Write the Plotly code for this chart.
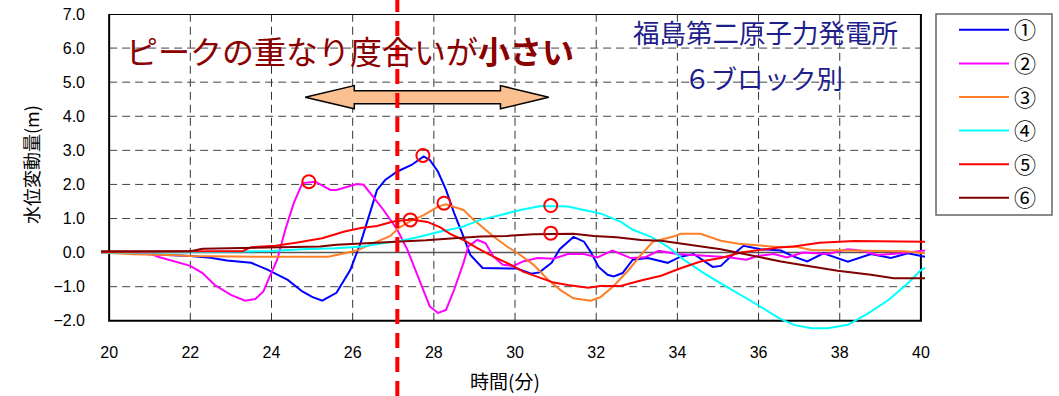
import plotly.graph_objects as go

# ---------------- data ----------------
series_names = ["①", "②", "③", "④", "⑤", "⑥"]
series_colors = ["#0000FF", "#FF00FF", "#FF7F27", "#00FFFF", "#FF0000", "#800000"]

x1 = [19.8, 20.6, 21.0, 21.7, 22.0, 22.5, 22.9, 23.5, 23.9, 24.4, 24.76, 25.0, 25.25, 25.6, 25.94,
      26.2, 26.4, 26.6, 26.8, 27.1, 27.45, 27.75, 27.9, 28.1, 28.3, 28.5, 28.73, 28.9, 29.2, 30.05,
      30.4, 30.6, 30.9, 31.1, 31.44, 31.7, 31.86, 32.06, 32.28, 32.43, 32.65, 32.9, 33.27, 33.76,
      34.08, 34.4, 34.87, 35.07, 35.3, 35.63, 36.05, 36.55, 36.87, 37.2, 37.6, 38.2, 38.77, 39.26,
      39.68, 40.1]
y1 = [0.0, 0.0, -0.05, -0.07, -0.1, -0.15, -0.23, -0.3, -0.5, -0.8, -1.14, -1.3, -1.41, -1.18, -0.51,
      0.3, 1.1, 1.84, 2.13, 2.38, 2.57, 2.82, 2.72, 2.38, 1.84, 1.16, 0.47, -0.07, -0.45, -0.47,
      -0.62, -0.58, -0.3, 0.1, 0.46, 0.32, 0.03, -0.42, -0.65, -0.7, -0.6, -0.21, -0.16, -0.3,
      -0.12, -0.04, -0.42, -0.39, -0.13, 0.2, 0.1, 0.06, -0.12, -0.26, -0.02, -0.27, -0.04, -0.16,
      -0.02, -0.12]

x2 = [19.8, 21.0, 21.2, 22.0, 22.3, 22.6, 23.0, 23.35, 23.6, 23.8, 23.92, 24.14, 24.34, 24.55, 24.76,
      25.08, 25.45, 25.6, 26.1, 26.27, 26.5, 26.76, 27.1, 27.35, 27.67, 27.9, 28.1, 28.3, 28.5, 28.73,
      28.85, 29.07, 29.27, 29.47, 29.7, 29.96, 30.2, 30.55, 30.95, 31.3, 31.7, 32.03, 32.4, 32.85,
      33.2, 33.54, 34.0, 34.4, 34.9, 35.26, 35.7, 35.97, 36.37, 36.7, 37.1, 37.7, 38.2, 38.5, 38.94,
      39.5, 40.1]
y2 = [0.0, -0.02, -0.12, -0.39, -0.6, -0.95, -1.24, -1.41, -1.36, -1.14, -0.8, -0.21, 0.67, 1.46, 2.04,
      2.08, 1.84, 1.84, 2.01, 1.99, 1.64, 1.25, 0.67, 0.08, -0.89, -1.58, -1.77, -1.68, -1.09, -0.3,
      0.18, 0.37, 0.28, -0.12, -0.36, -0.39, -0.26, -0.16, -0.18, -0.04, -0.04, -0.14, 0.06, -0.16,
      -0.14, 0.05, -0.04, -0.07, -0.12, -0.14, -0.21, -0.1, -0.04, -0.14, 0.0, -0.04, 0.1, 0.06, -0.07,
      -0.02, 0.06]

x3 = [19.8, 20.6, 21.5, 22.0, 23.6, 24.7, 25.4, 25.8, 26.1, 26.6, 26.93, 27.13, 27.4, 27.75, 28.1,
      28.3, 28.5, 28.73, 28.98, 29.22, 29.47, 29.8, 30.13, 30.46, 30.8, 31.12, 31.44, 31.86, 32.1,
      32.43, 32.8, 33.1, 33.4, 33.9, 34.08, 34.57, 35.07, 35.5, 35.97, 36.55, 36.9, 37.3, 39.6, 40.1]
y3 = [0.0, -0.05, -0.07, -0.1, -0.12, -0.12, -0.12, -0.02, 0.06, 0.32, 0.49, 0.72, 0.91, 1.1, 1.35,
      1.42, 1.35, 1.25, 0.96, 0.72, 0.47, 0.18, -0.07, -0.36, -0.78, -1.1, -1.34, -1.41, -1.31,
      -0.98, -0.51, -0.07, 0.32, 0.47, 0.55, 0.55, 0.35, 0.26, 0.21, 0.16, 0.18, 0.08, 0.04, -0.02]

x4 = [19.8, 21.5, 24.0, 24.76, 25.57, 26.27, 26.7, 27.18, 27.6, 28.16, 28.66, 29.15, 29.57, 30.13,
      30.63, 31.12, 31.3, 31.7, 32.1, 32.6, 32.9, 33.34, 33.76, 34.16, 34.65, 35.07, 35.56, 35.97,
      36.5, 36.87, 37.3, 37.7, 38.2, 38.7, 39.2, 39.68, 40.0, 40.1]
y4 = [0.0, 0.0, 0.05, 0.1, 0.13, 0.18, 0.27, 0.35, 0.45, 0.62, 0.74, 0.96, 1.08, 1.25, 1.37, 1.37,
      1.35, 1.25, 1.15, 0.91, 0.67, 0.47, 0.18, -0.21, -0.6, -0.9, -1.24, -1.53, -1.92, -2.12, -2.22,
      -2.22, -2.12, -1.78, -1.39, -0.9, -0.51, -0.45]

x5 = [19.8, 23.3, 23.5, 24.1, 24.6, 25.25, 25.8, 26.2, 26.6, 27.0, 27.45, 27.84, 28.16, 28.4, 28.73,
      29.07, 29.47, 29.9, 30.2, 30.55, 30.95, 31.3, 31.8, 32.1, 32.6, 33.1, 33.6, 34.08, 34.57, 35.07,
      35.56, 36.05, 36.55, 36.87, 37.5, 38.35, 40.1]
y5 = [0.02, 0.05, 0.16, 0.2, 0.29, 0.42, 0.62, 0.72, 0.78, 0.91, 0.97, 0.9, 0.74, 0.55, 0.37, 0.13,
      -0.12, -0.36, -0.56, -0.7, -0.88, -0.95, -1.03, -0.98, -0.98, -0.82, -0.68, -0.46, -0.26, -0.16,
      0.0, 0.08, 0.16, 0.18, 0.29, 0.34, 0.32]

x6 = [19.8, 22.0, 22.3, 24.3, 25.2, 25.6, 26.4, 27.1, 27.8, 28.5, 29.15, 29.8, 30.46, 31.44, 31.94,
      32.5, 33.1, 33.6, 34.08, 34.57, 35.07, 35.56, 36.05, 36.55, 37.3, 37.95, 38.77, 39.33, 40.1]
y6 = [0.04, 0.04, 0.11, 0.16, 0.18, 0.23, 0.28, 0.31, 0.36, 0.42, 0.47, 0.49, 0.54, 0.55, 0.49, 0.45,
      0.37, 0.35, 0.27, 0.2, 0.1, -0.02, -0.14, -0.26, -0.41, -0.53, -0.65, -0.75, -0.75]

peak_x = [24.92, 27.73, 27.42, 28.25, 30.88, 30.88]
peak_y = [2.08, 2.85, 0.96, 1.45, 1.38, 0.57]

x_ticks = [20, 22, 24, 26, 28, 30, 32, 34, 36, 38, 40]
y_ticks = [-2, -1, 0, 1, 2, 3, 4, 5, 6, 7]
marker_time = 27.1          # red dashed line
arrow_span = [24.83, 30.83]  # double arrow extent (minutes)

# ---------------- layout geometry ----------------
W, H = 1059, 396
ML, MR, MT, MB = 99, 132, 14, 65
PW, PH = W - ML - MR, H - MT - MB


def px2x(px):
    return (px - ML) / PW


def py2y(py):
    return (H - MB - py) / PH


fig = go.Figure()
xs = [x1, x2, x3, x4, x5, x6]
ys = [y1, y2, y3, y4, y5, y6]
for name, col, xx, yy in zip(series_names, series_colors, xs, ys):
    fig.add_trace(go.Scatter(x=xx, y=yy, mode="lines", name=name,
                             line=dict(color=col, width=2), legendgroup=name))

fig.add_trace(go.Scatter(x=peak_x, y=peak_y, mode="markers", showlegend=False,
                         marker=dict(symbol="circle-open", size=13, color="#FF0000",
                                     line=dict(width=2, color="#FF0000"))))

shapes = []
# grid lines
for xv in x_ticks[1:-1]:
    shapes.append(dict(type="line", xref="x", yref="y", x0=xv, x1=xv, y0=y_ticks[0], y1=y_ticks[-1],
                       line=dict(color="#333333", width=1, dash="8px,5px"), layer="below"))
for yv in y_ticks[1:-1]:
    if yv == 0:
        shapes.append(dict(type="line", xref="x", yref="y", x0=x_ticks[0], x1=x_ticks[-1], y0=0, y1=0,
                           line=dict(color="#555555", width=1.5), layer="below"))
    else:
        shapes.append(dict(type="line", xref="x", yref="y", x0=x_ticks[0], x1=x_ticks[-1], y0=yv, y1=yv,
                           line=dict(color="#444444", width=1, dash="8px,5px"), layer="below"))
# frame
shapes.append(dict(type="rect", xref="x", yref="y", x0=x_ticks[0], x1=x_ticks[-1],
                   y0=y_ticks[0], y1=y_ticks[-1], line=dict(color="black", width=2), layer="below"))
# legend frame
shapes.append(dict(type="rect", xref="paper", yref="paper", x0=px2x(936), x1=px2x(1052),
                   y0=py2y(215), y1=py2y(14), line=dict(color="#666666", width=1.5), layer="below"))

# double arrow
a0, a1 = arrow_span
hb0, hb1 = a0 + 1.21, a1 - 1.19
yc, yh, yb = 4.56, 0.34, 0.19
path = (f"M {a0},{yc} L {hb0},{yc+yh} L {hb0},{yc+yb} L {hb1},{yc+yb} L {hb1},{yc+yh} "
        f"L {a1},{yc} L {hb1},{yc-yh} L {hb1},{yc-yb} L {hb0},{yc-yb} L {hb0},{yc-yh} Z")
shapes.append(dict(type="path", xref="x", yref="y", path=path, fillcolor="#FAC090",
                   line=dict(color="black", width=1.5), layer="above"))
# red dashed vertical line
shapes.append(dict(type="line", xref="x", yref="paper", x0=marker_time, x1=marker_time,
                   y0=py2y(H), y1=py2y(0), line=dict(color="#FF0000", width=4, dash="15px,9px"),
                   layer="above"))

jp = "Noto Sans CJK JP"
annotations = [
    dict(text="ピークの重なり度合いが<b>小さい</b>", xref="paper", yref="paper", x=px2x(124), y=py2y(50),
         xanchor="left", yanchor="middle", showarrow=False, font=dict(family=jp, size=32, color="#8B0000")),
    dict(text="福島第二原子力発電所", xref="paper", yref="paper", x=px2x(631), y=py2y(32),
         xanchor="left", yanchor="middle", showarrow=False, font=dict(family=jp, size=26.5, color="#1F1F8C")),
    dict(text="６ブロック別", xref="paper", yref="paper", x=px2x(682), y=py2y(78),
         xanchor="left", yanchor="middle", showarrow=False, font=dict(family=jp, size=26.5, color="#1F1F8C")),
    dict(text="水位変動量(m)", xref="paper", yref="paper", x=px2x(31), y=py2y(165), textangle=-90,
         xanchor="center", yanchor="middle", showarrow=False, font=dict(family=jp, size=18, color="black")),
    dict(text="時間(分)", xref="paper", yref="paper", x=px2x(505), y=py2y(380),
         xanchor="center", yanchor="middle", showarrow=False, font=dict(family=jp, size=19, color="black")),
]

fig.update_layout(
    width=W, height=H, margin=dict(l=ML, r=MR, t=MT, b=MB, pad=0, autoexpand=False),
    paper_bgcolor="white", plot_bgcolor="white",
    shapes=shapes, annotations=annotations,
    showlegend=True,
    legend=dict(x=px2x(954), y=py2y(9), xanchor="left", yanchor="top", bgcolor="rgba(0,0,0,0)",
                borderwidth=0, font=dict(family=jp, size=22, color="black"),
                tracegroupgap=2, itemwidth=50, maxheight=380),
    xaxis=dict(range=[19.75, 40.15], tickvals=x_ticks, showgrid=False, zeroline=False, showline=False,
               ticks="", ticklabelstandoff=10, automargin=False,
               tickfont=dict(family="Liberation Sans", size=16, color="black")),
    yaxis=dict(range=[-2.3, 7.0], tickvals=y_ticks, tickformat=".1f", showgrid=False, zeroline=False,
               showline=False, ticks="", ticklabelstandoff=13, automargin=False,
               tickfont=dict(family="Liberation Sans", size=16, color="black")),
)

fig.write_html("out.html", config={"displayModeBar": False},
               post_script="document.body.style.margin='0px';")
